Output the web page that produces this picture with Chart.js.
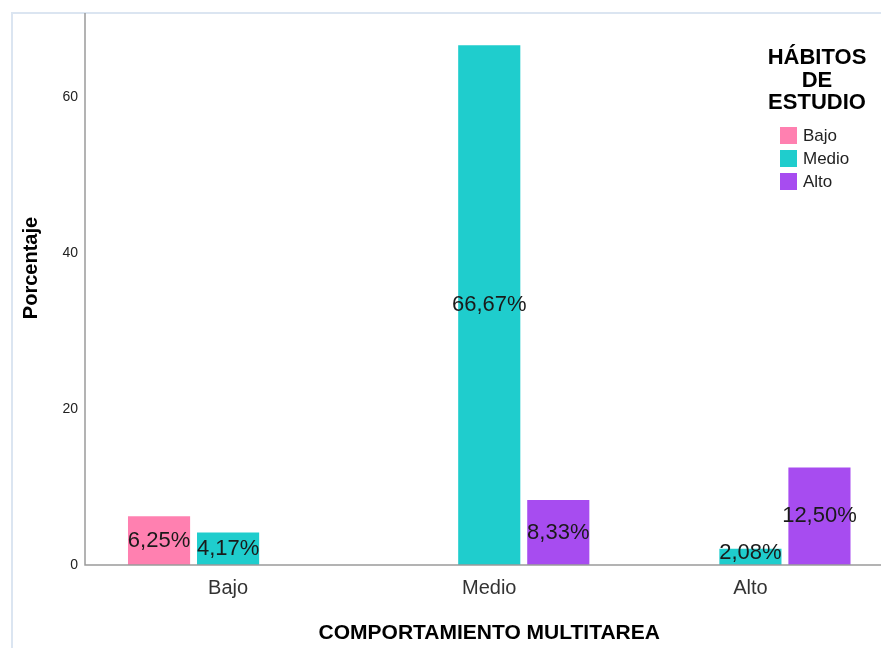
<!DOCTYPE html>
<html>
<head>
<meta charset="utf-8">
<script src="https://cdn.jsdelivr.net/npm/chart.js@4"></script>
<style>
  html, body { margin: 0; padding: 0; background: #fff; overflow: hidden; }
  #wrap { width: 881px; height: 648px; position: relative; }
</style>
</head>
<body>
<div id="wrap"><canvas id="chart" width="881" height="648"></canvas></div>
<script>
const categories = ["Bajo", "Medio", "Alto"];
const seriesNames = ["Bajo", "Medio", "Alto"];
const bajoValues = [6.25, 0, 0];
const medioValues = [4.17, 66.67, 2.08];
const altoValues = [0, 8.33, 12.5];
const seriesColors = ["#ff80b0", "#1fcdcd", "#a74cf0"];
const yTicks = [0, 20, 40, 60];

const legendTitle = ["HÁBITOS", "DE", "ESTUDIO"];
const xTitle = "COMPORTAMIENTO MULTITAREA";
const yTitle = "Porcentaje";
const FONT = "'Liberation Sans', Arial, sans-serif";

function fmt(v) {
  return v.toFixed(2).replace(".", ",") + "%";
}

// frame, axis lines, titles, legend and bar labels
const decorations = {
  id: "decorations",
  beforeDraw(chart) {
    const ctx = chart.ctx;
    ctx.save();
    ctx.strokeStyle = "#dbe5f1";
    ctx.lineWidth = 2;
    ctx.strokeRect(12, 13, 900, 700);
    ctx.restore();
  },
  afterDatasetsDraw(chart) {
    const ctx = chart.ctx;
    const area = chart.chartArea;
    const yScale = chart.scales.y;
    const base = yScale.getPixelForValue(0);

    ctx.save();
    // axis lines
    ctx.strokeStyle = "#9a9a9a";
    ctx.lineWidth = 1.5;
    ctx.beginPath();
    ctx.moveTo(85, area.top);
    ctx.lineTo(85, base);
    ctx.lineTo(area.right, base);
    ctx.stroke();

    // labels on bars
    ctx.font = "22px " + FONT;
    ctx.fillStyle = "#1a1a1a";
    ctx.textAlign = "center";
    ctx.textBaseline = "middle";
    chart.data.datasets.forEach((ds, i) => {
      const meta = chart.getDatasetMeta(i);
      meta.data.forEach((bar, j) => {
        const v = ds.data[j];
        if (!v) return;
        let y = (bar.y + bar.base) / 2;
        y = Math.min(y, base - 12);
        ctx.fillText(fmt(v), bar.x, y);
      });
    });

    // axis titles
    ctx.fillStyle = "#000";
    ctx.font = "bold 21px " + FONT;
    ctx.fillText(xTitle, (area.left + area.right) / 2, 633);
    ctx.save();
    ctx.translate(31, 268);
    ctx.rotate(-Math.PI / 2);
    ctx.font = "bold 20px " + FONT;
    ctx.fillText(yTitle, 0, 0);
    ctx.restore();

    // legend
    ctx.font = "bold 22px " + FONT;
    legendTitle.forEach((t, i) => {
      ctx.fillText(t, 817, 58 + i * 22.5);
    });
    ctx.textAlign = "left";
    ctx.font = "17px " + FONT;
    chart.data.datasets.forEach((ds, i) => {
      const top = 127 + i * 23;
      ctx.fillStyle = ds.backgroundColor;
      ctx.fillRect(780, top, 17, 17);
      ctx.fillStyle = "#222";
      ctx.fillText(ds.label, 803, top + 9);
    });
    ctx.restore();
  }
};

new Chart(document.getElementById("chart"), {
  type: "bar",
  data: {
    labels: categories,
    datasets: [
      { label: seriesNames[0], data: bajoValues, backgroundColor: seriesColors[0] },
      { label: seriesNames[1], data: medioValues, backgroundColor: seriesColors[1] },
      { label: seriesNames[2], data: altoValues, backgroundColor: seriesColors[2] }
    ]
  },
  options: {
    responsive: false,
    animation: false,
    layout: { padding: { top: 13, right: 0, left: 0, bottom: 0 } },
    categoryPercentage: 0.793,
    barPercentage: 0.9,
    plugins: {
      legend: { display: false },
      tooltip: { enabled: false }
    },
    scales: {
      x: {
        grid: { display: false, drawTicks: false },
        border: { display: false },
        ticks: {
          color: "#333",
          font: { family: FONT, size: 20 },
          padding: 11
        },
        afterFit(s) { s.height = 83; s.paddingLeft = 0; s.paddingRight = 0; }
      },
      y: {
        min: 0,
        max: 70.8,
        grid: { display: false, drawTicks: false },
        border: { display: false },
        afterBuildTicks(s) { s.ticks = yTicks.map(v => ({ value: v })); },
        ticks: {
          color: "#222",
          font: { family: FONT, size: 14 },
          padding: 19.5
        },
        afterFit(s) { s.width = 97.5; s.paddingTop = 0; s.paddingBottom = 0; }
      }
    }
  },
  plugins: [decorations]
});
</script>
</body>
</html>
